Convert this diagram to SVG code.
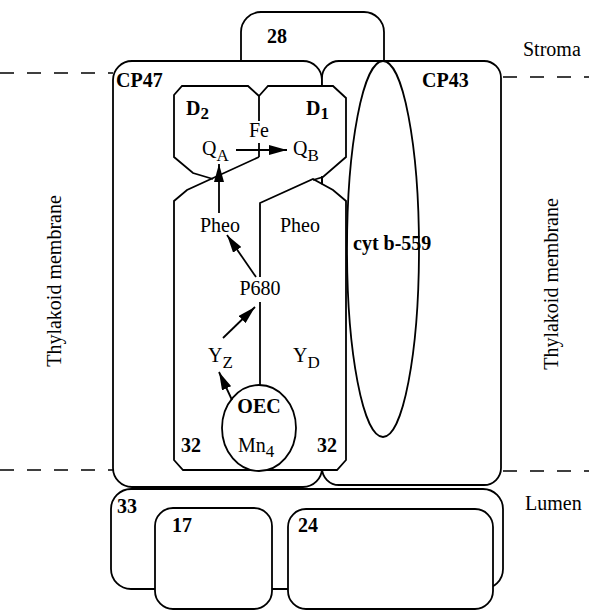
<svg xmlns="http://www.w3.org/2000/svg" width="589" height="610" viewBox="0 0 589 610">
<defs>
<style>
.s{fill:#fff;stroke:#000;stroke-width:1.8;stroke-linejoin:round}
.l{fill:none;stroke:#000;stroke-width:1.8;stroke-linejoin:miter}
.d{fill:none;stroke:#000;stroke-width:1.6;stroke-dasharray:14 13}
.a{fill:none;stroke:#000;stroke-width:1.8}
text{font-family:"Liberation Serif","Times New Roman",serif;font-size:20px;fill:#000}
.b{font-weight:bold}
.sub{font-size:17px}
</style>
<marker id="ah" viewBox="0 0 18 10" refX="18" refY="5" markerWidth="18" markerHeight="10" markerUnits="userSpaceOnUse" orient="auto"><path d="M0,0 L18,5 L0,10 z" fill="#000"/></marker>
</defs>

<g id="membrane-lines">
<line class="d" x1="0" y1="73" x2="113" y2="73"/>
<line class="d" x1="503" y1="77" x2="589" y2="77"/>
<line class="d" x1="0" y1="470" x2="113" y2="470"/>
<line class="d" x1="503" y1="471" x2="589" y2="471"/>
</g>

<g id="n28">
<path class="s" d="M241,61 V32 A20,20 0 0 1 261,12 H364 A20,20 0 0 1 384,32 V61"/>
<text class="b" x="267" y="43">28</text>
</g>

<g id="cp47">
<rect class="s" x="113" y="61" width="209" height="426" rx="19" ry="19"/>
<text class="b" x="116" y="87">CP47</text>
</g>

<g id="cp43">
<rect class="s" x="322" y="61" width="179" height="424" rx="17" ry="17"/>
<text class="b" x="422" y="87">CP43</text>
</g>

<g id="n33">
<rect class="s" x="111" y="489" width="392" height="100" rx="20" ry="20"/>
<text class="b" x="117" y="513">33</text>
</g>

<g id="n17">
<rect class="s" x="155" y="508" width="117" height="101" rx="18" ry="18"/>
<text class="b" x="172" y="532">17</text>
</g>

<g id="n24">
<rect class="s" x="288" y="509" width="205" height="100" rx="18" ry="18"/>
<text class="b" x="298" y="532">24</text>
</g>

<g id="cytb559">
<ellipse class="s" cx="383" cy="249" rx="36" ry="188"/>
<text class="b" x="353" y="250">cyt b-559</text>
</g>

<g id="d1d2">
<path fill="#fff" stroke="none" d="M182,86 L248,86 L259,96 L268,86 L333,86 L346,98 L346,157 L323,177 L313,180 L333,190 L346,201 L346,460 L337,470 L183,470 L174,460 L174,201 L187,190 L213,178 L193,173 L174,157 L174,95 Z"/>
<path class="l" d="M259,96 L248,86 L182,86 L174,95 L174,157 L193,173 L213,179"/>
<path class="l" d="M259,96 L268,86 L333,86 L346,98 L346,157 L323,177 L313,180"/>
<path class="l" d="M259,96 V121 M259,143 V157"/>
<path class="l" d="M259,157 L187,190 L174,201 L174,460 L183,470 L337,470 L346,460 L346,201 L333,190 L313,179 L260,203 V277 M260,302 V386"/>
<path class="l" d="M322,176 V184"/>
<text x="186" y="115" class="b">D<tspan class="sub" dy="4">2</tspan></text>
<text x="306" y="115" class="b">D<tspan class="sub" dy="4">1</tspan></text>
<text x="259" y="137" text-anchor="middle">Fe</text>
<text x="202" y="155">Q<tspan class="sub" dy="6">A</tspan></text>
<text x="293" y="155">Q<tspan class="sub" dy="6">B</tspan></text>
<text x="220" y="232" text-anchor="middle">Pheo</text>
<text x="300" y="232" text-anchor="middle">Pheo</text>
<text x="260" y="295" text-anchor="middle">P680</text>
<text x="208" y="362">Y<tspan class="sub" dy="6">Z</tspan></text>
<text x="293" y="362">Y<tspan class="sub" dy="6">D</tspan></text>
<text class="b" x="181" y="452">32</text>
<text class="b" x="317" y="452">32</text>
</g>

<g id="oec">
<ellipse class="s" cx="259" cy="428" rx="37" ry="43"/>
<text class="b" x="259" y="413" text-anchor="middle">OEC</text>
<text x="238" y="452">Mn<tspan class="sub" dy="5">4</tspan></text>
</g>

<g id="connectors">
<line class="a" x1="236" y1="150" x2="287" y2="150" marker-end="url(#ah)"/>
<line class="a" x1="219" y1="213" x2="219" y2="164" marker-end="url(#ah)"/>
<line class="a" x1="256" y1="277" x2="227" y2="235" marker-end="url(#ah)"/>
<line class="a" x1="223" y1="338" x2="255" y2="307" marker-end="url(#ah)"/>
<line class="a" x1="232" y1="400" x2="219" y2="372" marker-end="url(#ah)"/>
</g>

<g id="labels">
<text x="523" y="56" font-size="20.5">Stroma</text>
<text x="525" y="510" font-size="20.5">Lumen</text>
<text transform="translate(61,281) rotate(-90)" text-anchor="middle" font-size="20.5">Thylakoid membrane</text>
<text transform="translate(558,284) rotate(-90)" text-anchor="middle" font-size="20.5">Thylakoid membrane</text>
</g>
</svg>
